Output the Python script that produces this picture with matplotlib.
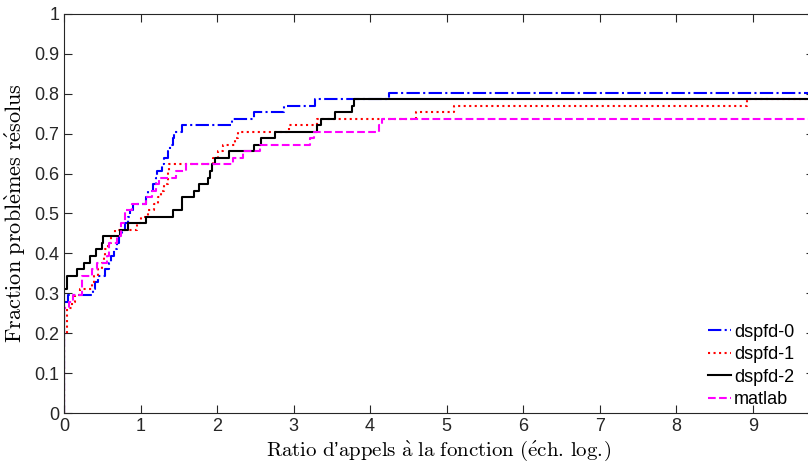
import matplotlib
matplotlib.use("Agg")
import matplotlib.pyplot as plt

# step curves: (log ratio, fraction solved)
dspfd0_x = [0.0, 0.0, 0.05, 0.38, 0.40, 0.45, 0.54, 0.585, 0.62, 0.65, 0.69, 0.72, 0.76, 0.80,
            0.83, 0.86, 0.90, 1.07, 1.10, 1.16, 1.20, 1.22, 1.28, 1.31, 1.36, 1.39, 1.42, 1.44,
            1.54, 2.19, 2.48, 2.87, 3.28, 4.25, 9.9]
dspfd0_y = [0.0, 0.279, 0.295, 0.311, 0.328, 0.344, 0.361, 0.377, 0.393, 0.410, 0.426, 0.443,
            0.459, 0.475, 0.492, 0.508, 0.525, 0.541, 0.557, 0.574, 0.590, 0.607, 0.623, 0.639,
            0.656, 0.672, 0.689, 0.705, 0.721, 0.738, 0.754, 0.770, 0.787, 0.803, 0.803]

dspfd1_x = [0.0, 0.0, 0.04, 0.10, 0.14, 0.21, 0.36, 0.39, 0.45, 0.50, 0.52, 0.54, 0.58, 0.62,
            0.66, 0.95, 1.0, 1.10, 1.18, 1.23, 1.27, 1.31, 1.355, 1.375, 1.95, 2.01, 2.08,
            2.23, 2.28, 2.94, 3.31, 4.60, 5.09, 8.93, 9.9]
dspfd1_y = [0.0, 0.197, 0.262, 0.279, 0.295, 0.311, 0.328, 0.344, 0.361, 0.377, 0.393, 0.410,
            0.426, 0.443, 0.459, 0.475, 0.492, 0.508, 0.525, 0.541, 0.557, 0.574, 0.607, 0.623,
            0.639, 0.656, 0.672, 0.689, 0.705, 0.721, 0.738, 0.754, 0.770, 0.787, 0.787]

dspfd2_x = [0.0, 0.0, 0.035, 0.17, 0.255, 0.335, 0.415, 0.49, 0.515, 0.73, 0.83, 1.07, 1.43,
            1.54, 1.70, 1.77, 1.88, 1.91, 1.94, 1.97, 2.16, 2.48, 2.57, 2.76, 3.31, 3.36, 3.54,
            3.76, 3.79, 9.9]
dspfd2_y = [0.0, 0.311, 0.344, 0.361, 0.377, 0.393, 0.410, 0.426, 0.443, 0.459, 0.475, 0.492,
            0.508, 0.541, 0.557, 0.574, 0.590, 0.607, 0.623, 0.639, 0.656, 0.672, 0.689, 0.705,
            0.721, 0.738, 0.754, 0.770, 0.787, 0.787]

matlab_x = [0.0, 0.0, 0.07, 0.12, 0.23, 0.36, 0.43, 0.56, 0.585, 0.695, 0.75, 0.80, 0.89, 1.07,
            1.15, 1.20, 1.245, 1.46, 1.60, 2.21, 2.34, 2.56, 3.22, 3.27, 4.12, 4.15, 9.9]
matlab_y = [0.0, 0.262, 0.279, 0.295, 0.344, 0.361, 0.377, 0.393, 0.426, 0.443, 0.475, 0.508,
            0.525, 0.541, 0.557, 0.574, 0.590, 0.607, 0.623, 0.639, 0.656, 0.672, 0.689, 0.705,
            0.721, 0.738, 0.738]

curves = [
    ("dspfd-0", dspfd0_x, dspfd0_y, "#0000ff", "-."),
    ("dspfd-1", dspfd1_x, dspfd1_y, "#ff0000", ":"),
    ("dspfd-2", dspfd2_x, dspfd2_y, "#000000", "-"),
    ("matlab", matlab_x, matlab_y, "#ff00ff", "--"),
]

plt.rcParams["font.family"] = ["Liberation Sans", "DejaVu Sans"]
plt.rcParams["mathtext.fontset"] = "cm"

fig = plt.figure(figsize=(8.08, 4.65), dpi=100)
ax = fig.add_axes([64 / 808, 52 / 465, 750 / 808, 399 / 465])

for name, xs, ys, col, ls in curves:
    ax.plot(xs, ys, drawstyle="steps-post", color=col, linestyle=ls, linewidth=1.5, label=name)

ax.set_xlim(0, 9.8)
ax.set_ylim(0, 1)
ax.set_xticks(range(0, 10))
ax.set_yticks([i / 10 for i in range(11)])
ax.set_yticklabels(["0"] + [f"0.{i}" for i in range(1, 10)] + ["1"])
ax.tick_params(direction="in", length=6, width=0.8, labelsize=13, top=True, right=True,
               colors="#262626")
for s in ax.spines.values():
    s.set_color("#262626")
    s.set_linewidth(0.8)

ax.set_xlabel(r"$\mathrm{Ratio\ d}$’$\mathrm{appels\ \grave{a}\ la\ fonction\ (\acute{e}ch.\!\ log.\!)}$",
              fontsize=15, labelpad=3)
ax.set_ylabel(r"$\mathrm{Fraction\ probl\grave{e}mes\ r\acute{e}solus}$", fontsize=16, labelpad=4)

ax.legend(loc="lower left", frameon=False, fontsize=13, handlelength=1.3, handletextpad=0.15,
          labelspacing=0.3, borderpad=0, borderaxespad=0,
          bbox_to_anchor=(708 / 808, 57 / 465), bbox_transform=fig.transFigure)

fig.savefig("out.png", dpi=100)
